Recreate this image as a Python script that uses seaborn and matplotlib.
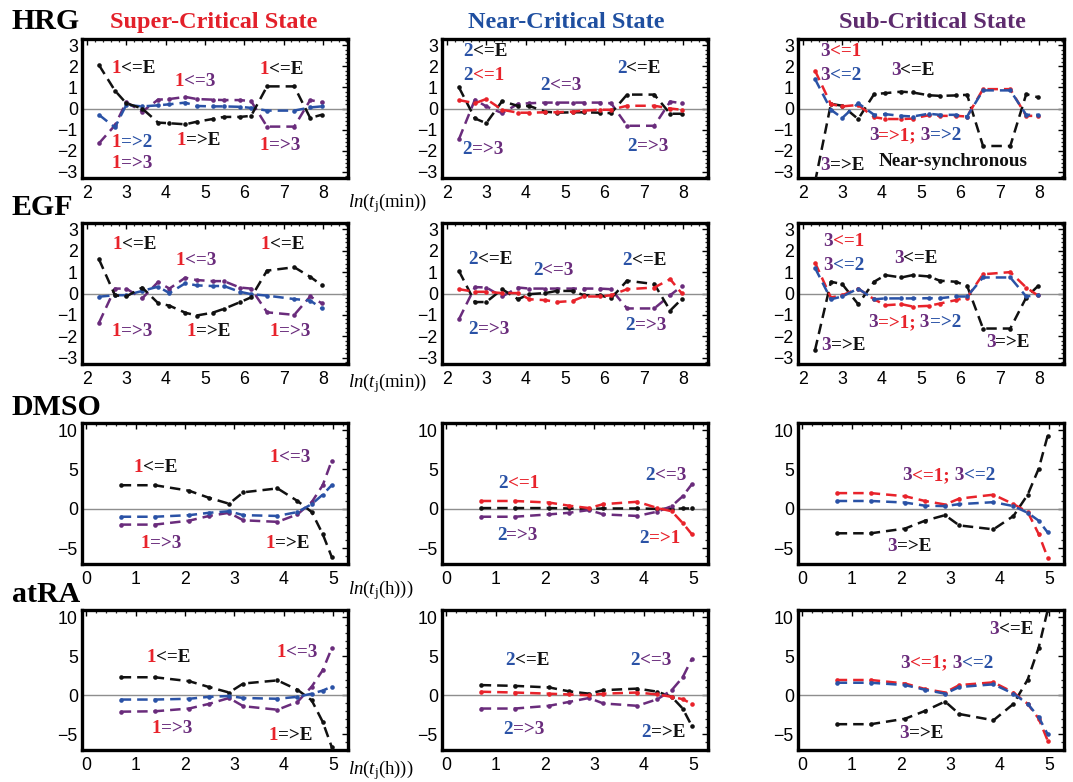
import numpy as np
import pandas as pd
import matplotlib
matplotlib.use("Agg")
import matplotlib.pyplot as plt
import seaborn as sns
from matplotlib.offsetbox import TextArea, HPacker, AnnotationBbox
from matplotlib.ticker import MultipleLocator

# ---------------------------------------------------------------- time axes
t_min = [10, 15, 20, 30, 45, 60, 90, 120, 180, 240, 360, 480, 720, 1440, 2160, 2880]
t_hour = [2, 4, 8, 12, 18, 24, 48, 72, 96, 120, 144]

# ---------------------------------------------------------------- HRG
hrg_super_black = [2.06, 0.85, 0.25, 0.0, -0.67, -0.7, -0.75, -0.63, -0.5, -0.4, -0.4, -0.35, 1.05, 1.05, -0.45, -0.3]
hrg_super_blue = [-0.3, -0.9, 0.17, 0.1, 0.15, 0.2, 0.28, 0.12, 0.1, 0.1, 0.08, 0.03, -0.1, -0.1, 0.05, 0.1]
hrg_super_purple = [-1.65, -0.8, 0.3, -0.15, 0.42, 0.45, 0.55, 0.45, 0.42, 0.4, 0.4, 0.35, -0.86, -0.86, 0.4, 0.3]

hrg_near_black = [1.0, -0.47, -0.7, 0.35, 0.12, 0.12, -0.15, -0.2, -0.18, -0.18, -0.2, -0.22, 0.66, 0.66, -0.25, -0.25]
hrg_near_red = [0.4, 0.25, 0.45, -0.06, -0.2, -0.2, -0.18, -0.18, -0.15, -0.1, -0.06, -0.06, 0.13, 0.13, 0.0, -0.06]
hrg_near_purple = [-1.45, 0.42, 0.1, -0.22, 0.22, 0.25, 0.28, 0.28, 0.28, 0.28, 0.28, 0.25, -0.82, -0.82, 0.33, 0.25]

hrg_sub_black = [-3.5, 0.22, 0.13, -0.5, 0.68, 0.73, 0.8, 0.76, 0.63, 0.6, 0.62, 0.65, -1.78, -1.78, 0.68, 0.54]
hrg_sub_red = [1.8, 0.2, 0.1, 0.17, -0.41, -0.5, -0.5, -0.48, -0.32, -0.35, -0.35, -0.38, 0.92, 0.92, -0.35, -0.35]
hrg_sub_blue = [1.4, -0.06, -0.45, 0.25, -0.3, -0.27, -0.35, -0.38, -0.25, -0.3, -0.3, -0.38, 0.86, 0.86, -0.3, -0.3]

# ---------------------------------------------------------------- EGF
egf_super_black = [1.6, -0.08, -0.14, 0.28, -0.45, -0.57, -0.9, -1.03, -0.9, -0.72, -0.41, -0.18, 1.07, 1.23, 0.78, 0.4]
egf_super_blue = [-0.15, -0.08, -0.08, 0.12, 0.32, 0.02, 0.48, 0.38, 0.35, 0.35, 0.08, -0.03, -0.1, -0.26, -0.33, -0.69]
egf_super_purple = [-1.37, 0.23, 0.23, -0.23, 0.54, 0.23, 0.74, 0.63, 0.58, 0.58, 0.28, 0.23, -0.88, -1.0, -0.14, -0.45]

egf_near_black = [1.05, -0.4, -0.4, 0.2, -0.27, -0.03, 0.02, 0.12, 0.12, -0.08, -0.08, -0.23, 0.6, 0.44, -0.8, -0.27]
egf_near_red = [0.2, 0.08, 0.08, 0.02, 0.02, -0.27, -0.31, -0.4, -0.35, -0.14, -0.14, -0.08, 0.2, 0.28, 0.67, 0.02]
egf_near_purple = [-1.2, 0.3, 0.28, -0.14, 0.28, 0.23, 0.23, 0.23, 0.23, 0.23, 0.23, 0.2, -0.7, -0.7, -0.08, 0.33]

egf_sub_black = [-2.65, 0.55, 0.44, -0.5, 0.55, 0.86, 0.75, 0.86, 0.8, 0.6, 0.55, 0.36, -1.64, -1.64, -0.19, 0.33]
egf_sub_red = [1.45, -0.19, -0.08, 0.23, -0.27, -0.55, -0.5, -0.61, -0.58, -0.47, -0.31, -0.19, 0.9, 1.0, 0.28, -0.08]
egf_sub_blue = [1.2, -0.27, -0.14, 0.23, -0.27, -0.23, -0.23, -0.23, -0.22, -0.22, -0.14, -0.14, 0.75, 0.75, -0.14, -0.08]

# ---------------------------------------------------------------- DMSO
dmso_super_black = [3.0, 3.0, 2.3, 1.4, 0.65, 2.1, 2.6, 1.0, -0.4, -3.2, -6.1]
dmso_super_blue = [-1.0, -1.0, -0.8, -0.5, -0.3, -0.8, -0.9, -0.4, 0.6, 1.8, 3.0]
dmso_super_purple = [-2.0, -2.0, -1.5, -0.9, -0.5, -1.45, -1.65, -0.7, 0.85, 3.0, 6.1]

dmso_near_black = [0.1, 0.1, 0.1, 0.05, 0.0, 0.05, 0.05, 0.0, 0.0, 0.05, 0.05]
dmso_near_red = [1.0, 1.0, 0.8, 0.4, 0.1, 0.6, 0.9, 0.1, -0.3, -1.8, -3.2]
dmso_near_purple = [-1.0, -1.0, -0.7, -0.5, -0.15, -0.7, -0.9, -0.35, 0.35, 1.6, 3.1]

dmso_sub_black = [-3.1, -3.1, -2.5, -1.5, -0.8, -2.1, -2.6, -0.9, 1.8, 5.1, 9.3]
dmso_sub_red = [2.0, 2.0, 1.6, 1.0, 0.55, 1.3, 1.8, 0.6, -0.4, -3.2, -6.2]
dmso_sub_blue = [1.0, 1.0, 0.8, 0.4, 0.35, 0.6, 0.85, 0.35, -0.5, -1.5, -3.0]

# ---------------------------------------------------------------- atRA
atra_super_black = [2.3, 2.3, 1.8, 1.05, 0.35, 1.5, 1.9, 0.7, -0.65, -3.4, -6.6]
atra_super_blue = [-0.55, -0.55, -0.45, -0.2, -0.1, -0.35, -0.45, -0.2, 0.2, 0.6, 1.1]
atra_super_purple = [-2.1, -2.05, -1.7, -1.1, -0.35, -1.4, -1.85, -0.85, 1.1, 3.2, 6.0]

atra_near_black = [1.3, 1.2, 1.0, 0.5, 0.2, 0.65, 0.85, 0.45, -0.2, -1.7, -3.9]
atra_near_red = [0.45, 0.35, 0.2, 0.1, 0.0, 0.2, 0.35, 0.1, -0.2, -0.5, -1.1]
atra_near_purple = [-1.7, -1.7, -1.35, -0.85, -0.35, -1.05, -1.35, -0.5, 0.65, 2.3, 4.6]

atra_sub_black = [-3.7, -3.7, -3.0, -2.0, -0.8, -2.4, -3.2, -1.1, 2.0, 6.1, 10.9]
atra_sub_red = [1.95, 1.95, 1.5, 0.8, 0.35, 1.3, 1.65, 0.35, -1.1, -3.0, -5.8]
atra_sub_blue = [1.6, 1.6, 1.3, 0.7, 0.2, 1.05, 1.4, 0.2, -1.1, -2.8, -5.0]

row_names = ["HRG", "EGF", "DMSO", "atRA"]
state_titles = ["Super-Critical State", "Near-Critical State", "Sub-Critical State"]
x_labels = [r"$ln(t_{\mathrm{j}}$(min))", r"$ln(t_{\mathrm{j}}$(min))",
            r"$ln(t_{\mathrm{j}}$(h)))", r"$ln(t_{\mathrm{j}}$(h)))"]

# ---------------------------------------------------------------- styling
PAL = {"r": "#e8232b", "b": "#2a52a6", "p": "#6a2c7c", "k": "#111111"}
TITLE_COL = ["#e3202a", "#1f4fa0", "#5e2b6e"]

sns.set_style("white")
plt.rcParams.update({
    "font.family": ["Liberation Sans", "DejaVu Sans"],
    "mathtext.fontset": "custom",
    "mathtext.rm": "Liberation Serif",
    "mathtext.it": "Liberation Serif:italic",
    "axes.unicode_minus": True,
})

SERIF = "Liberation Serif"

# series per panel: (values, colour key)
panels = {
    (0, 0): [(hrg_super_purple, "p"), (hrg_super_blue, "b"), (hrg_super_black, "k")],
    (0, 1): [(hrg_near_purple, "p"), (hrg_near_black, "k"), (hrg_near_red, "r")],
    (0, 2): [(hrg_sub_black, "k"), (hrg_sub_red, "r"), (hrg_sub_blue, "b")],
    (1, 0): [(egf_super_purple, "p"), (egf_super_blue, "b"), (egf_super_black, "k")],
    (1, 1): [(egf_near_purple, "p"), (egf_near_black, "k"), (egf_near_red, "r")],
    (1, 2): [(egf_sub_black, "k"), (egf_sub_red, "r"), (egf_sub_blue, "b")],
    (2, 0): [(dmso_super_black, "k"), (dmso_super_purple, "p"), (dmso_super_blue, "b")],
    (2, 1): [(dmso_near_black, "k"), (dmso_near_purple, "p"), (dmso_near_red, "r")],
    (2, 2): [(dmso_sub_black, "k"), (dmso_sub_red, "r"), (dmso_sub_blue, "b")],
    (3, 0): [(atra_super_black, "k"), (atra_super_purple, "p"), (atra_super_blue, "b")],
    (3, 1): [(atra_near_black, "k"), (atra_near_purple, "p"), (atra_near_red, "r")],
    (3, 2): [(atra_sub_black, "k"), (atra_sub_red, "r"), (atra_sub_blue, "b")],
}

# flow annotations: (x, y, [(text, colour key), ...])
labels = {
    (0, 0): [(2.62, 1.9, [("1", "r"), ("<=E", "k")]),
             (4.23, 1.3, [("1", "r"), ("<=3", "p")]),
             (6.40, 1.85, [("1", "r"), ("<=E", "k")]),
             (2.62, -1.6, [("1", "r"), ("=>2", "b")]),
             (2.62, -2.6, [("1", "r"), ("=>3", "p")]),
             (4.28, -1.5, [("1", "r"), ("=>E", "k")]),
             (6.40, -1.75, [("1", "r"), ("=>3", "p")])],
    (0, 1): [(2.42, 2.7, [("2", "b"), ("<=E", "k")]),
             (2.42, 1.55, [("2", "b"), ("<=1", "r")]),
             (4.37, 1.1, [("2", "b"), ("<=3", "p")]),
             (6.32, 1.9, [("2", "b"), ("<=E", "k")]),
             (2.38, -1.95, [("2", "b"), ("=>3", "p")]),
             (6.58, -1.8, [("2", "b"), ("=>3", "p")])],
    (0, 2): [(2.43, 2.7, [("3", "p"), ("<=1", "r")]),
             (2.43, 1.58, [("3", "p"), ("<=2", "b")]),
             (4.23, 1.8, [("3", "p"), ("<=E", "k")]),
             (3.67, -1.27, [("3", "p"), ("=>1;", "r"), (" 3", "p"), ("=>2", "b")]),
             (2.43, -2.7, [("3", "p"), ("=>E", "k")]),
             (3.93, -2.5, [("Near-synchronous", "k")])],
    (1, 0): [(2.64, 2.3, [("1", "r"), ("<=E", "k")]),
             (6.42, 2.3, [("1", "r"), ("<=E", "k")]),
             (4.26, 1.54, [("1", "r"), ("<=3", "p")]),
             (2.61, -1.77, [("1", "r"), ("=>3", "p")]),
             (4.52, -1.77, [("1", "r"), ("=>E", "k")]),
             (6.64, -1.77, [("1", "r"), ("=>3", "p")])],
    (1, 1): [(2.53, 1.6, [("2", "b"), ("<=E", "k")]),
             (4.18, 1.1, [("2", "b"), ("<=3", "p")]),
             (6.47, 1.55, [("2", "b"), ("<=E", "k")]),
             (2.55, -1.67, [("2", "b"), ("=>3", "p")]),
             (6.53, -1.52, [("2", "b"), ("=>3", "p")])],
    (1, 2): [(2.52, 2.42, [("3", "p"), ("<=1", "r")]),
             (2.52, 1.33, [("3", "p"), ("<=2", "b")]),
             (4.31, 1.64, [("3", "p"), ("<=E", "k")]),
             (3.65, -1.36, [("3", "p"), ("=>1;", "r"), (" 3", "p"), ("=>2", "b")]),
             (2.46, -2.42, [("3", "p"), ("=>E", "k")]),
             (6.65, -2.3, [("3", "p"), ("=>E", "k")])],
    (2, 0): [(0.95, 5.3, [("1", "r"), ("<=E", "k")]),
             (3.70, 6.5, [("1", "r"), ("<=3", "p")]),
             (1.10, -4.4, [("1", "r"), ("=>3", "p")]),
             (3.63, -4.4, [("1", "r"), ("=>E", "k")])],
    (2, 1): [(1.05, 3.2, [("2", "b"), ("<=1", "r")]),
             (4.03, 4.25, [("2", "b"), ("<=3", "p")]),
             (1.02, -3.4, [("2", "b"), ("=>3", "p")]),
             (3.91, -3.8, [("2", "b"), ("=>1", "r")])],
    (2, 2): [(2.03, 4.25, [("3", "p"), ("<=1;", "r"), (" 3", "p"), ("<=2", "b")]),
             (1.72, -4.8, [("3", "p"), ("=>E", "k")])],
    (3, 0): [(1.22, 4.8, [("1", "r"), ("<=E", "k")]),
             (3.85, 5.5, [("1", "r"), ("<=3", "p")]),
             (1.32, -4.3, [("1", "r"), ("=>3", "p")]),
             (3.68, -5.2, [("1", "r"), ("=>E", "k")])],
    (3, 1): [(1.20, 4.5, [("2", "b"), ("<=E", "k")]),
             (3.73, 4.4, [("2", "b"), ("<=3", "p")]),
             (1.16, -4.4, [("2", "b"), ("=>3", "p")]),
             (3.94, -4.75, [("2", "b"), ("=>E", "k")])],
    (3, 2): [(3.78, 8.4, [("3", "p"), ("<=E", "k")]),
             (1.99, 4.1, [("3", "p"), ("<=1;", "r"), (" 3", "p"), ("<=2", "b")]),
             (1.96, -4.95, [("3", "p"), ("=>E", "k")])],
}

# ---------------------------------------------------------------- layout (pixels)
W, H = 1073, 782
col_left = [82, 442, 798]
panel_w = 266
row_top = [39, 223, 423, 610]
row_bot = [178, 364, 564, 750]

fig = plt.figure(figsize=(W / 100, H / 100), dpi=100)
fig.patch.set_facecolor("white")


def add_label(ax, x, y, parts, size=13.8):
    boxes = [TextArea(s, textprops=dict(color=PAL[c], fontsize=size, family=SERIF,
                                        fontweight="bold"))
             for s, c in parts]
    pack = HPacker(children=boxes, align="baseline", pad=0, sep=0)
    ab = AnnotationBbox(pack, (x, y), xycoords="data", box_alignment=(0, 0.5),
                        frameon=False, pad=0, annotation_clip=False, zorder=6)
    ax.add_artist(ab)


for r in range(4):
    minutes = r < 2
    xs = np.log(t_min) if minutes else np.log(t_hour)
    for c in range(3):
        left = col_left[c] / W
        bottom = 1 - row_bot[r] / H
        height = (row_bot[r] - row_top[r]) / H
        ax = fig.add_axes([left, bottom, panel_w / W, height])
        ax.axhline(0, color="#8e8e8e", lw=1.0, zorder=1)
        for vals, ck in panels[(r, c)]:
            df = pd.DataFrame({"x": xs, "y": vals})
            sns.lineplot(data=df, x="x", y="y", ax=ax, color=PAL[ck], lw=1.8,
                         linestyle=(0, (4.2, 2.4)), marker="o", markersize=3.3,
                         markeredgewidth=0, zorder=3)
        if minutes:
            ax.set_xlim(1.87, 8.64)
            ax.set_ylim(-3.3, 3.3)
            ax.set_xticks(range(2, 9))
            ax.set_yticks(range(-3, 4))
            ax.xaxis.set_minor_locator(MultipleLocator(0.2))
            ax.yaxis.set_minor_locator(MultipleLocator(0.2))
        else:
            ax.set_xlim(-0.09, 5.3)
            ax.set_ylim(-7.0, 10.9)
            ax.set_xticks(range(0, 6))
            ax.set_yticks([-5, 0, 5, 10])
            ax.xaxis.set_minor_locator(MultipleLocator(0.2))
            ax.yaxis.set_minor_locator(MultipleLocator(1))
        ax.set_xlabel("")
        ax.set_ylabel("")
        for sp in ax.spines.values():
            sp.set_visible(True)
            sp.set_color("black")
            sp.set_linewidth(2.4)
        ax.tick_params(which="major", direction="in", length=4, width=1.0,
                       top=True, right=True, labelsize=12.8, colors="black")
        ax.tick_params(which="minor", direction="in", length=2.2, width=0.9,
                       top=True, right=True)
        ax.tick_params(axis="x", which="major", pad=5)
        ax.tick_params(axis="y", which="major", pad=3)
        for (lx, ly, parts) in labels[(r, c)]:
            add_label(ax, lx, ly, parts)

# row names
row_base = [29, 215, 415, 602]
for name, yb in zip(row_names, row_base):
    fig.text(12 / W, 1 - yb / H, name, family=SERIF, fontweight="bold",
             fontsize=21.5, color="black", ha="left", va="baseline")

# state titles
for title, cx, col in zip(state_titles, [214, 566, 932], TITLE_COL):
    fig.text(cx / W, 1 - 28 / H, title, family=SERIF, fontweight="bold",
             fontsize=17.5, color=col, ha="center", va="baseline")

# time-axis captions
for lab, yc in zip(x_labels, [203, 383, 590, 770]):
    fig.text(348 / W, 1 - yc / H, lab, family=SERIF, fontsize=13.5,
             color="black", ha="left", va="center")

fig.savefig("out.png", dpi=100, facecolor="white")
